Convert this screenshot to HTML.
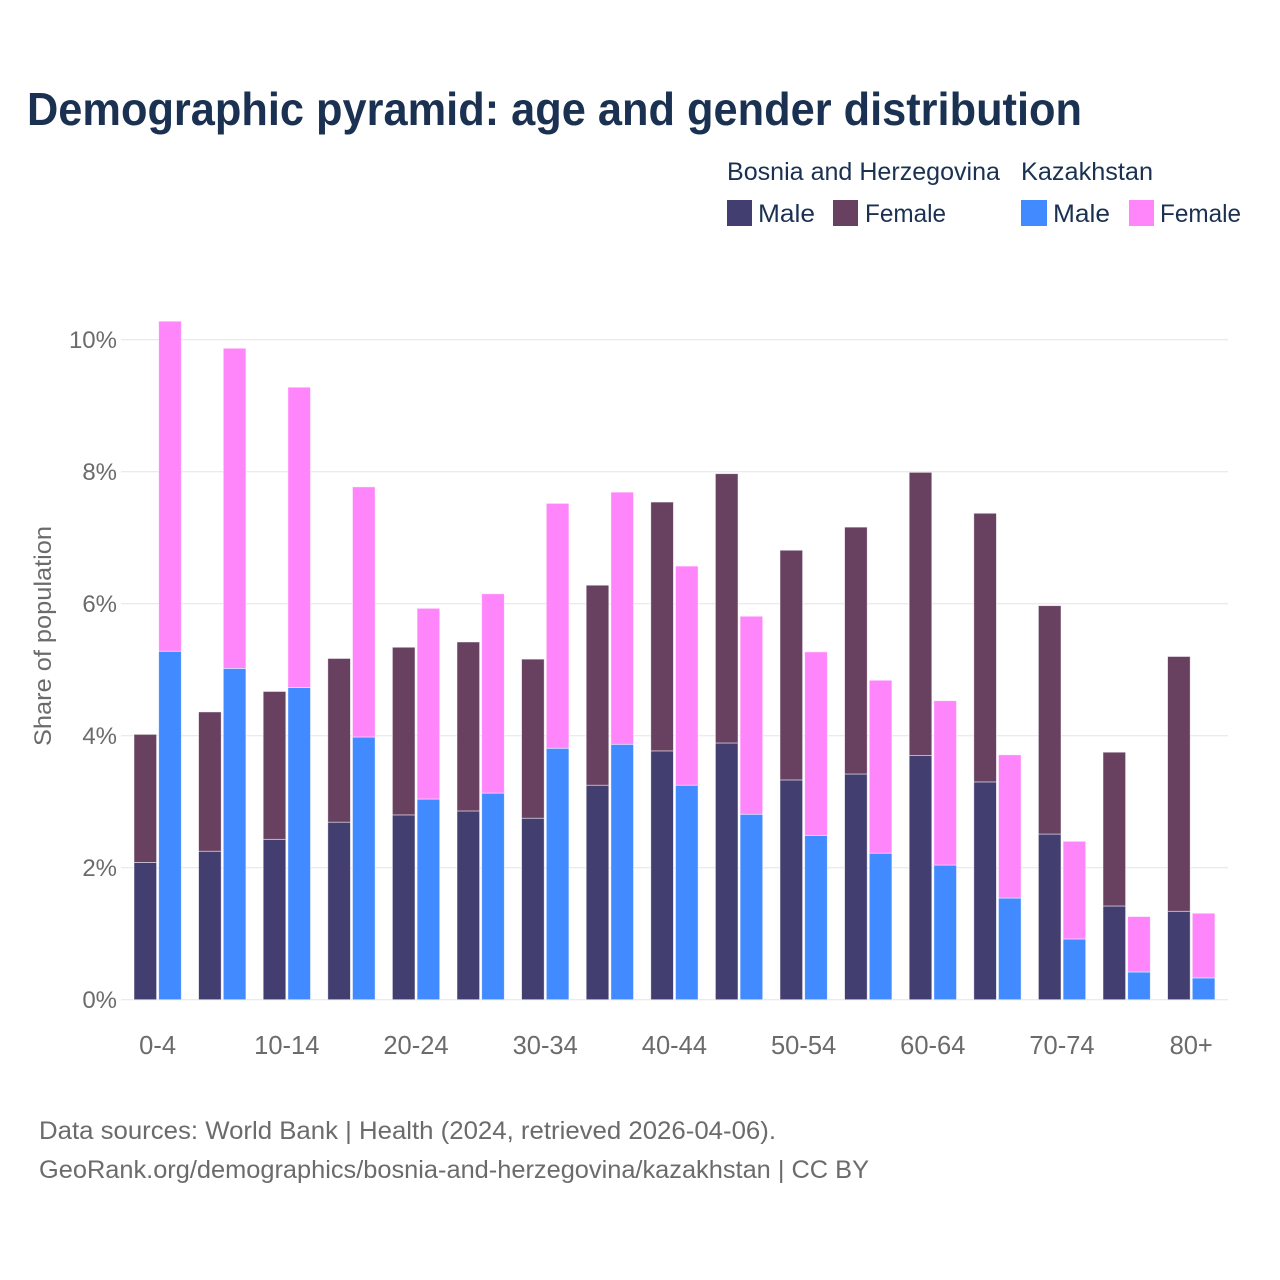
<!DOCTYPE html>
<html lang="en">
<head>
<meta charset="utf-8">
<title>Demographic pyramid: age and gender distribution</title>
<style>
html,body{margin:0;padding:0;background:#fff}
svg{display:block}
text{font-family:"Liberation Sans",sans-serif}
</style>
</head>
<body>
<svg id="chart" xmlns="http://www.w3.org/2000/svg" width="1280" height="1280" viewBox="0 0 1280 1280">
  <rect width="1280" height="1280" fill="#ffffff"/>
  <text x="27" y="125" font-size="46" font-weight="700" fill="#1a3152" textLength="1055" lengthAdjust="spacingAndGlyphs">Demographic pyramid: age and gender distribution</text>

  <g font-size="25" fill="#1a3152">
    <text x="727" y="180" textLength="273" lengthAdjust="spacingAndGlyphs">Bosnia and Herzegovina</text>
    <text x="1021" y="180" textLength="132" lengthAdjust="spacingAndGlyphs">Kazakhstan</text>
    <rect x="727" y="200" width="25" height="26" fill="#433e70"/>
    <text x="758" y="222" textLength="57" lengthAdjust="spacingAndGlyphs">Male</text>
    <rect x="833" y="200" width="25" height="26" fill="#684060"/>
    <text x="865" y="222" textLength="81" lengthAdjust="spacingAndGlyphs">Female</text>
    <rect x="1021" y="200" width="26" height="26" fill="#418aff"/>
    <text x="1053" y="222" textLength="57" lengthAdjust="spacingAndGlyphs">Male</text>
    <rect x="1129" y="200" width="25" height="26" fill="#ff85fa"/>
    <text x="1160" y="222" textLength="81" lengthAdjust="spacingAndGlyphs">Female</text>
  </g>

  <g id="grid"></g>
  <g id="y-ticks" font-size="24" fill="#6b6b6b" text-anchor="end"></g>
  <text transform="translate(51,746) rotate(-90)" font-size="24" fill="#6b6b6b" textLength="220" lengthAdjust="spacingAndGlyphs">Share of population</text>
  <g id="bars"></g>
  <g id="x-ticks" font-size="25.5" fill="#6b6b6b" text-anchor="middle"></g>

  <g font-size="25" fill="#6b6b6b">
    <text x="39" y="1139" textLength="737" lengthAdjust="spacingAndGlyphs">Data sources: World Bank | Health (2024, retrieved 2026-04-06).</text>
    <text x="39" y="1178" textLength="830" lengthAdjust="spacingAndGlyphs">GeoRank.org/demographics/bosnia-and-herzegovina/kazakhstan | CC BY</text>
  </g>
</svg>
<script>
const categories = ['0-4','5-9','10-14','15-19','20-24','25-29','30-34','35-39','40-44','45-49','50-54','55-59','60-64','65-69','70-74','75-79','80+'];
const bosniaMale = [2.08,2.25,2.43,2.69,2.80,2.86,2.75,3.25,3.77,3.89,3.33,3.42,3.70,3.30,2.51,1.42,1.34];
const bosniaFemale = [1.94,2.11,2.24,2.48,2.54,2.56,2.41,3.03,3.77,4.08,3.48,3.74,4.29,4.07,3.46,2.33,3.86];
const kazakhstanMale = [5.28,5.02,4.73,3.98,3.04,3.13,3.81,3.87,3.25,2.81,2.49,2.22,2.04,1.54,0.92,0.42,0.33];
const kazakhstanFemale = [5.00,4.85,4.55,3.79,2.89,3.02,3.71,3.82,3.32,3.00,2.78,2.62,2.49,2.17,1.48,0.84,0.98];
const yTicks = [0,2,4,6,8,10];
const xTickLabels = ['0-4','10-14','20-24','30-34','40-44','50-54','60-64','70-74','80+'];

const NS = 'http://www.w3.org/2000/svg';
const yScale = v => 999.7 - v * 66;
const xBand = i => 134 + i * 64.6;
const barWidth = 22.6;
const barGap = 24.7;

const gridLayer = document.getElementById('grid');
const yTickLayer = document.getElementById('y-ticks');
const barLayer = document.getElementById('bars');
const xTickLayer = document.getElementById('x-ticks');

yTicks.forEach(t => {
  const line = document.createElementNS(NS, 'line');
  
  
  line.setAttribute('x1', 121);
  line.setAttribute('x2', 1228);
  line.setAttribute('y1', yScale(t));
  line.setAttribute('y2', yScale(t));
  line.setAttribute('stroke', '#ebebeb');
  line.setAttribute('stroke-width', 1.3);
  gridLayer.appendChild(line);

  const label = document.createElementNS(NS, 'text');
  
  
  label.setAttribute('x', 117);
  label.setAttribute('y', yScale(t) + 8.5);
  label.textContent = t + '%';
  yTickLayer.appendChild(label);
});

function addBar(x, base, value, color, name) {
  const rect = document.createElementNS(NS, 'rect');
  
  
  rect.setAttribute('x', x);
  rect.setAttribute('y', yScale(base + value));
  rect.setAttribute('width', barWidth);
  rect.setAttribute('height', yScale(base) - yScale(base + value));
  rect.setAttribute('fill', color);
  rect.setAttribute('stroke', '#ffffff');
  rect.setAttribute('stroke-opacity', '0.6');
  rect.setAttribute('stroke-width', 0.8);
  barLayer.appendChild(rect);
}

categories.forEach((c, i) => {
  const x = xBand(i);
  addBar(x, 0, bosniaMale[i], '#433e70', 'bar-bosnia-male-' + c);
  addBar(x, bosniaMale[i], bosniaFemale[i], '#684060', 'bar-bosnia-female-' + c);
  addBar(x + barGap, 0, kazakhstanMale[i], '#418aff', 'bar-kazakhstan-male-' + c);
  addBar(x + barGap, kazakhstanMale[i], kazakhstanFemale[i], '#ff85fa', 'bar-kazakhstan-female-' + c);

  if (xTickLabels.includes(c)) {
    const label = document.createElementNS(NS, 'text');
    
    
    label.setAttribute('x', x + 23.6);
    label.setAttribute('y', 1054);
    label.textContent = c;
    xTickLayer.appendChild(label);
  }
});
</script>
</body>
</html>
